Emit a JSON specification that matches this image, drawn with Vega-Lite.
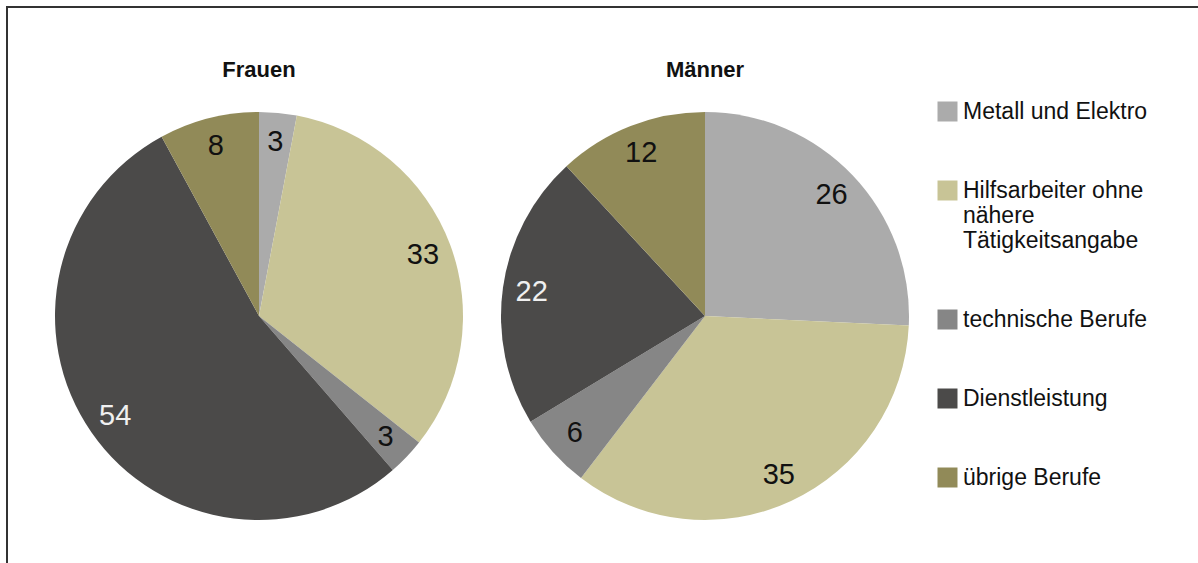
{
  "$schema": "https://vega.github.io/schema/vega-lite/v6.json",
  "width": 1198,
  "height": 563,
  "autosize": {"type": "fit", "contains": "padding"},
  "padding": {"left": 7, "top": 7, "right": -5, "bottom": -5},
  "background": "white",
  "config": {
    "view": {"stroke": "#333333", "strokeWidth": 2},
    "font": "Liberation Sans",
    "text": {"font": "Liberation Sans"}
  },
  "datasets": {
    "shares": [
      {"gender": "Frauen", "category": "Metall und Elektro", "order": 1, "value": 3},
      {"gender": "Frauen", "category": "Hilfsarbeiter ohne nähere Tätigkeitsangabe", "order": 2, "value": 33},
      {"gender": "Frauen", "category": "technische Berufe", "order": 3, "value": 3},
      {"gender": "Frauen", "category": "Dienstleistung", "order": 4, "value": 54},
      {"gender": "Frauen", "category": "übrige Berufe", "order": 5, "value": 8},
      {"gender": "Männer", "category": "Metall und Elektro", "order": 1, "value": 26},
      {"gender": "Männer", "category": "Hilfsarbeiter ohne nähere Tätigkeitsangabe", "order": 2, "value": 35},
      {"gender": "Männer", "category": "technische Berufe", "order": 3, "value": 6},
      {"gender": "Männer", "category": "Dienstleistung", "order": 4, "value": 22},
      {"gender": "Männer", "category": "übrige Berufe", "order": 5, "value": 12}
    ],
    "titles": [{"gender": "Frauen"}, {"gender": "Männer"}]
  },
  "layer": [
    {
      "data": {"name": "titles"},
      "mark": {"type": "text", "fontSize": 22, "fontWeight": "bold", "color": "#111111", "baseline": "middle"},
      "encoding": {
        "x": {"field": "gender", "type": "nominal", "scale": {"type": "point", "domain": ["Frauen", "Männer"], "range": [252, 698], "padding": 0}, "axis": null},
        "y": {"datum": "title", "type": "nominal", "scale": {"type": "point", "domain": ["title", "pie"], "range": [63, 309], "padding": 0}, "axis": null},
        "text": {"field": "gender"}
      }
    },
    {
      "data": {"name": "shares"},
      "transform": [{"filter": "datum.gender === 'Frauen'"}],
      "encoding": {
        "x": {"field": "gender", "type": "nominal", "axis": null},
        "y": {"datum": "pie", "type": "nominal", "axis": null},
        "theta": {"field": "value", "type": "quantitative", "stack": true, "scale": {"domain": [0, 101]}},
        "order": {"field": "order", "type": "quantitative"}
      },
      "layer": [
        {
          "mark": {"type": "arc", "outerRadius": 204},
          "encoding": {
            "color": {
              "field": "category", "type": "nominal",
              "scale": {
                "domain": ["Metall und Elektro", "Hilfsarbeiter ohne nähere Tätigkeitsangabe", "technische Berufe", "Dienstleistung", "übrige Berufe"],
                "range": ["#ababab", "#c8c496", "#868686", "#4b4a49", "#918a58"]
              },
              "legend": {
                "orient": "none", "legendX": 929, "legendY": 93, "title": null,
                "symbolType": "square", "symbolSize": 400, "symbolStrokeWidth": 0, "symbolOpacity": 1,
                "labelFontSize": 23, "labelColor": "#111111", "labelFont": "Liberation Sans", "labelLimit": 0, "labelOffset": 4,
                "rowPadding": 55, "padding": 0,
                "labelExpr": "datum.label === 'Hilfsarbeiter ohne nähere Tätigkeitsangabe' ? ['Hilfsarbeiter ohne', 'nähere', 'Tätigkeitsangabe'] : datum.label"
              }
            }
          }
        },
        {
          "mark": {"type": "text", "radius": 175, "fontSize": 29},
          "encoding": {
            "text": {"field": "value", "type": "quantitative"},
            "color": {"condition": {"test": "datum.category === 'Dienstleistung'", "value": "#f0f0f0"}, "value": "#111111"}
          }
        }
      ]
    },
    {
      "data": {"name": "shares"},
      "transform": [{"filter": "datum.gender === 'Männer'"}],
      "encoding": {
        "x": {"field": "gender", "type": "nominal", "axis": null},
        "y": {"datum": "pie", "type": "nominal", "axis": null},
        "theta": {"field": "value", "type": "quantitative", "stack": true, "scale": {"domain": [0, 101]}},
        "order": {"field": "order", "type": "quantitative"}
      },
      "layer": [
        {
          "mark": {"type": "arc", "outerRadius": 204},
          "encoding": {
            "color": {
              "field": "category", "type": "nominal",
              "legend": {
                "orient": "none", "legendX": 929, "legendY": 93, "title": null,
                "symbolType": "square", "symbolSize": 400, "symbolStrokeWidth": 0, "symbolOpacity": 1,
                "labelFontSize": 23, "labelColor": "#111111", "labelFont": "Liberation Sans", "labelLimit": 0, "labelOffset": 4,
                "rowPadding": 55, "padding": 0,
                "labelExpr": "datum.label === 'Hilfsarbeiter ohne nähere Tätigkeitsangabe' ? ['Hilfsarbeiter ohne', 'nähere', 'Tätigkeitsangabe'] : datum.label"
              }
            }
          }
        },
        {
          "mark": {"type": "text", "radius": 175, "fontSize": 29},
          "encoding": {
            "text": {"field": "value", "type": "quantitative"},
            "color": {"condition": {"test": "datum.category === 'Dienstleistung'", "value": "#f0f0f0"}, "value": "#111111"}
          }
        }
      ]
    }
  ]
}
